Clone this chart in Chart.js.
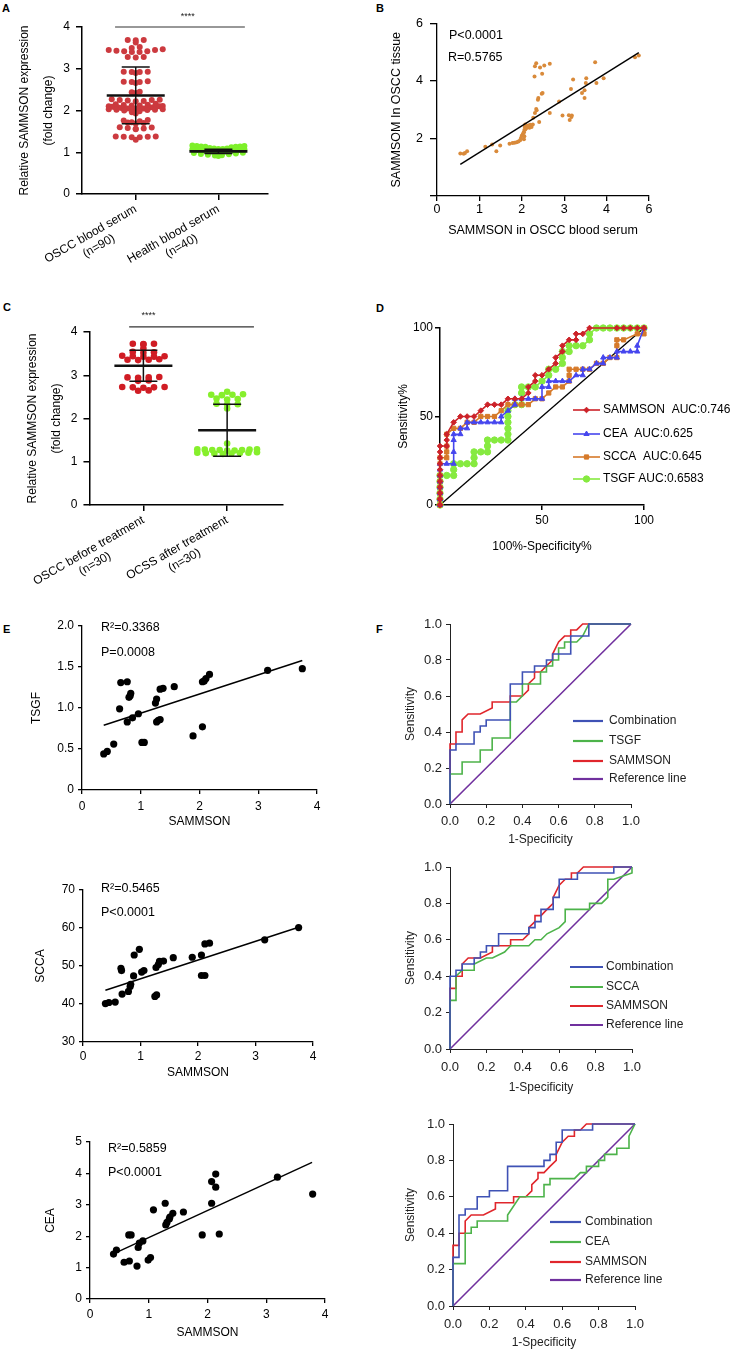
<!DOCTYPE html>
<html>
<head>
<meta charset="utf-8">
<title>SAMMSON figure</title>
<script src="https://cdn.jsdelivr.net/npm/chart.js@4.4.1/dist/chart.umd.min.js"></script>
<style>
  html, body { margin: 0; padding: 0; background: #fff; }
  body { position: relative; width: 735px; height: 1350px; overflow: hidden; }
  canvas { position: absolute; }
</style>
</head>
<body>
<script>
const FONT = "'Liberation Sans', Arial, sans-serif";

// ---- A: serum SAMMSON, OSCC vs healthy
const aGroups = [['OSCC blood serum', '(n=90)'], ['Health blood serum', '(n=40)']];
const aOscc = [3.69, 3.69, 3.68, 3.63,
  3.52, 3.50, 3.47, 3.45, 3.45, 3.43, 3.42, 3.42, 3.40, 3.40,
  3.28, 3.28, 3.27,
  2.93, 2.93, 2.92, 2.92, 2.90,
  2.70, 2.69, 2.68, 2.68, 2.66,
  2.45, 2.44, 2.42,
  2.27, 2.26, 2.25, 2.25, 2.24, 2.23, 2.22,
  2.16, 2.15, 2.14, 2.13, 2.12, 2.12, 2.11, 2.10, 2.10, 2.09, 2.09, 2.08, 2.08, 2.07, 2.07, 2.06, 2.06,
  2.06, 2.05, 2.05, 2.05, 2.04, 2.04, 2.04, 2.03, 2.03, 2.02, 2.02, 2.01, 2.00, 1.98, 1.96, 1.93,
  1.77, 1.76, 1.74, 1.72, 1.71, 1.70, 1.69,
  1.60, 1.59, 1.58, 1.57, 1.56, 1.55,
  1.38, 1.38, 1.37, 1.37, 1.36, 1.36,
  1.30];
const aHealth = [1.16, 1.15, 1.15, 1.14, 1.14, 1.13, 1.13, 1.12,
  1.10, 1.09, 1.09, 1.08, 1.08, 1.07, 1.07, 1.06, 1.06, 1.05, 1.05, 1.05, 1.04, 1.04, 1.04, 1.03,
  1.03, 1.02, 1.02, 1.01, 1.01, 1.00, 1.00, 0.99, 0.98, 0.97, 0.96, 0.95, 0.94, 0.93, 0.92, 0.91];
const aMean = [2.36, 1.02];
const aSd = [0.68, 0.05];

// ---- B: serum vs tissue
const bTickLabels = ['0', '1', '2', '3', '4', '6'];
const bPoints = [[0.55, 1.48], [0.63, 1.47], [0.66, 1.50], [0.71, 1.56], [1.14, 1.71], [1.30, 1.79], [1.40, 1.56],
  [1.49, 1.76], [1.71, 1.82], [1.78, 1.84], [1.83, 1.85], [1.88, 1.87], [1.92, 1.90], [1.96, 1.94], [1.98, 2.02],
  [2.00, 2.10], [2.02, 2.14], [2.04, 2.20], [2.05, 1.97], [2.05, 2.22], [2.06, 2.30], [2.06, 2.08], [2.07, 2.40],
  [2.08, 2.49], [2.08, 2.31], [2.10, 2.35], [2.12, 2.43], [2.15, 2.45], [2.18, 2.37], [2.20, 2.48], [2.23, 2.40],
  [2.26, 2.49], [2.27, 2.72], [2.30, 4.16], [2.31, 2.89], [2.31, 4.51], [2.34, 3.03], [2.34, 4.62], [2.35, 2.98],
  [2.38, 3.35], [2.39, 3.41], [2.41, 2.57], [2.43, 4.47], [2.47, 3.56], [2.48, 4.25], [2.49, 3.58], [2.53, 4.54],
  [2.66, 4.60], [2.66, 2.89], [2.88, 3.29], [2.96, 2.80], [3.11, 2.81], [3.13, 2.64], [3.17, 2.75], [3.18, 2.80],
  [3.16, 3.72], [3.21, 4.05], [3.42, 3.58], [3.48, 3.41], [3.48, 3.68], [3.51, 3.93], [3.52, 4.10], [3.73, 4.65],
  [3.76, 3.93], [3.93, 4.10], [4.67, 4.83], [4.76, 4.89]];
const bFit = [[0.55, 1.10], [4.76, 4.99]];

// ---- C: before / after treatment
const cGroups = [['OSCC before treatment', '(n=30)'], ['OCSS after treatment', '(n=30)']];
const cBefore = [3.73, 3.73, 3.72, 3.71, 3.62, 3.54, 3.53, 3.52, 3.45, 3.44, 3.44, 3.43, 3.43, 3.37, 3.36,
  3.36, 3.35, 2.96, 2.95, 2.95, 2.94, 2.88, 2.87, 2.73, 2.73, 2.72, 2.72, 2.71, 2.65, 2.64];
const cAfter = [2.62, 2.56, 2.55, 2.55, 2.54, 2.46, 2.45, 2.44, 2.34, 2.33, 2.32, 2.23, 1.42, 1.29, 1.29,
  1.28, 1.28, 1.27, 1.27, 1.27, 1.26, 1.26, 1.22, 1.21, 1.21, 1.20, 1.20, 1.19, 1.19, 1.18];
const cMean = [3.22, 1.73];
const cSd = [0.36, 0.60];

// ---- D: ROC of single markers (%)
const dLabels = ['SAMMSON  AUC:0.746', 'CEA  AUC:0.625', 'SCCA  AUC:0.645', 'TSGF AUC:0.6583'];
const dSammson = [[0, 0], [0, 3.3], [0, 6.7], [0, 10], [0, 13.3], [0, 16.7], [0, 20], [0, 23.3], [0, 26.7], [0, 30],
  [0, 33.3], [3.3, 33.3], [3.3, 36.7], [3.3, 40], [6.7, 46.7], [10, 50], [13.3, 50], [16.7, 50], [20, 53.3],
  [23.3, 56.7], [26.7, 56.7], [30, 56.7], [33.3, 60], [36.7, 60], [40, 60], [43.3, 63.3], [43.3, 66.7], [46.7, 70],
  [46.7, 73.3], [50, 73.3], [53.3, 76.7], [56.7, 80], [56.7, 83.3], [60, 86.7], [60, 90], [63.3, 93.3], [66.7, 93.3],
  [66.7, 96.7], [70, 96.7], [73.3, 100], [86.7, 100], [90, 100], [93.3, 100], [96.7, 100], [100, 100]];
const dCea = [[0, 0], [0, 3.3], [0, 6.7], [0, 10], [0, 13.3], [0, 16.7], [0, 20], [0, 23.3], [3.3, 23.3], [6.7, 23.3],
  [6.7, 30], [6.7, 36.7], [6.7, 40], [10, 40], [10, 43.3], [13.3, 43.3], [13.3, 46.7], [16.7, 46.7], [20, 46.7],
  [23.3, 46.7], [26.7, 46.7], [30, 46.7], [30, 50], [33.3, 53.3], [36.7, 56.7], [36.7, 60], [40, 60], [43.3, 60],
  [46.7, 60], [50, 60], [50, 66.7], [53.3, 66.7], [53.3, 70], [56.7, 70], [60, 70], [63.3, 70], [66.7, 73.3],
  [70, 73.3], [70, 76.7], [73.3, 76.7], [76.7, 80], [80, 80], [80, 83.3], [83.3, 83.3], [86.7, 83.3], [86.7, 86.7],
  [90, 86.7], [93.3, 86.7], [96.7, 86.7], [96.7, 90], [100, 100]];
const dScca = [[0, 0], [0, 3.3], [0, 6.7], [0, 10], [0, 13.3], [0, 16.7], [0, 23.3], [0, 26.7], [3.3, 26.7], [3.3, 30],
  [3.3, 33.3], [3.3, 40], [6.7, 43.3], [10, 43.3], [13.3, 46.7], [16.7, 46.7], [20, 50], [23.3, 50], [26.7, 50],
  [30, 53.3], [33.3, 56.7], [36.7, 56.7], [40, 56.7], [43.3, 56.7], [46.7, 60], [50, 60], [53.3, 63.3], [56.7, 66.7],
  [60, 66.7], [63.3, 70], [63.3, 73.3], [63.3, 76.7], [66.7, 76.7], [70, 76.7], [73.3, 76.7], [76.7, 80], [80, 80],
  [83.3, 83.3], [86.7, 83.3], [86.7, 90], [86.7, 93.3], [90, 93.3], [96.7, 96.7], [100, 96.7], [100, 100]];
const dTsgf = [[0, 0], [0, 3.3], [0, 6.7], [0, 10], [0, 13.3], [0, 16.7], [3.3, 16.7], [6.7, 16.7], [6.7, 20],
  [6.7, 23.3], [10, 23.3], [13.3, 23.3], [16.7, 23.3], [16.7, 26.7], [16.7, 30], [20, 30], [23.3, 30], [23.3, 33.3],
  [23.3, 36.7], [26.7, 36.7], [30, 36.7], [33.3, 36.7], [33.3, 40], [33.3, 43.3], [33.3, 46.7], [33.3, 50],
  [33.3, 53.3], [36.7, 56.7], [40, 56.7], [40, 63.3], [40, 66.7], [43.3, 66.7], [46.7, 66.7], [50, 70], [53.3, 73.3],
  [53.3, 76.7], [56.7, 76.7], [60, 80], [60, 83.3], [60, 86.7], [63.3, 86.7], [63.3, 90], [66.7, 90], [70, 90],
  [73.3, 93.3], [73.3, 96.7], [76.7, 100], [80, 100], [83.3, 100], [86.7, 100], [90, 100], [93.3, 100],
  [96.7, 100], [100, 100]];
const dDiagonal = [[0, 0], [100, 100]];

// ---- E: correlations with SAMMSON
const e1Points = [[0.37, 0.44], [0.43, 0.47], [0.54, 0.56], [0.64, 0.99], [0.66, 1.31], [0.77, 1.32], [0.77, 0.83],
  [0.80, 1.13], [0.82, 1.15], [0.83, 1.18], [0.86, 0.88], [0.96, 0.93], [1.02, 0.58], [1.06, 0.58], [1.25, 1.06],
  [1.27, 1.11], [1.27, 0.83], [1.30, 0.85], [1.33, 0.86], [1.33, 1.23], [1.38, 1.24], [1.57, 1.26], [1.89, 0.66],
  [2.05, 0.77], [2.05, 1.32], [2.08, 1.33], [2.11, 1.36], [2.17, 1.41], [3.16, 1.46], [3.75, 1.48]];
const e1Fit = [[0.37, 0.79], [3.75, 1.58]];
const e2Points = [[0.39, 40.1], [0.45, 40.4], [0.56, 40.5], [0.66, 49.4], [0.67, 48.8], [0.68, 42.6], [0.79, 43.3],
  [0.82, 44.6], [0.83, 45.2], [0.88, 47.4], [0.89, 52.9], [0.98, 54.4], [1.02, 48.4], [1.06, 48.8], [1.25, 42.0],
  [1.28, 42.4], [1.27, 49.6], [1.31, 50.4], [1.33, 51.2], [1.40, 51.3], [1.57, 52.2], [1.90, 52.3], [2.06, 52.9],
  [2.06, 47.5], [2.12, 47.5], [2.12, 55.8], [2.20, 56.0], [3.16, 56.9], [3.75, 60.1]];
const e2Fit = [[0.39, 43.6], [3.75, 60.2]];
const e3Points = [[0.40, 1.43], [0.45, 1.56], [0.58, 1.17], [0.67, 1.21], [0.66, 2.04], [0.70, 2.04], [0.80, 1.05],
  [0.82, 1.64], [0.84, 1.78], [0.90, 1.85], [0.99, 1.24], [1.03, 1.32], [1.08, 2.84], [1.28, 3.05], [1.29, 2.36],
  [1.31, 2.44], [1.35, 2.55], [1.36, 2.61], [1.41, 2.73], [1.59, 2.77], [1.91, 2.04], [2.07, 3.74], [2.07, 3.05],
  [2.14, 3.98], [2.14, 3.56], [2.20, 2.07], [3.19, 3.88], [3.79, 3.34]];
const e3Fit = [[0.48, 1.51], [3.78, 4.35]];

// ---- F: ROC of combination vs single markers
const fSammson = [[0, 0], [0, 0.333], [0.033, 0.333], [0.033, 0.4], [0.067, 0.4], [0.067, 0.467], [0.1, 0.5],
  [0.167, 0.5], [0.233, 0.533], [0.233, 0.567], [0.333, 0.567], [0.333, 0.6], [0.4, 0.6], [0.433, 0.633],
  [0.433, 0.667], [0.467, 0.7], [0.467, 0.733], [0.5, 0.733], [0.533, 0.767], [0.567, 0.8], [0.567, 0.833],
  [0.6, 0.9], [0.633, 0.933], [0.667, 0.933], [0.667, 0.967], [0.7, 0.967], [0.733, 1], [1, 1]];
const f1Comb = [[0, 0], [0, 0.3], [0.033, 0.3], [0.033, 0.333], [0.133, 0.333], [0.133, 0.4], [0.167, 0.4],
  [0.167, 0.433], [0.2, 0.433], [0.2, 0.467], [0.333, 0.467], [0.333, 0.667], [0.4, 0.667], [0.4, 0.733],
  [0.467, 0.733], [0.467, 0.767], [0.533, 0.767], [0.533, 0.8], [0.567, 0.8], [0.567, 0.833], [0.667, 0.833],
  [0.667, 0.933], [0.767, 0.933], [0.767, 1], [1, 1]];
const f1Tsgf = [[0, 0], [0, 0.167], [0.067, 0.167], [0.067, 0.233], [0.167, 0.233], [0.167, 0.3], [0.233, 0.3],
  [0.233, 0.367], [0.333, 0.367], [0.333, 0.567], [0.367, 0.567], [0.4, 0.6], [0.4, 0.667], [0.5, 0.667],
  [0.5, 0.733], [0.533, 0.733], [0.533, 0.767], [0.567, 0.767], [0.567, 0.8], [0.6, 0.8], [0.6, 0.867],
  [0.633, 0.867], [0.633, 0.9], [0.7, 0.9], [0.733, 0.933], [0.767, 1], [1, 1]];
const f2Comb = [[0, 0], [0, 0.4], [0.033, 0.4], [0.033, 0.433], [0.067, 0.433], [0.067, 0.467], [0.133, 0.467],
  [0.133, 0.5], [0.167, 0.5], [0.167, 0.533], [0.2, 0.533], [0.2, 0.567], [0.267, 0.567], [0.267, 0.633],
  [0.433, 0.633], [0.433, 0.667], [0.467, 0.667], [0.467, 0.7], [0.5, 0.7], [0.5, 0.767], [0.567, 0.767],
  [0.567, 0.833], [0.6, 0.833], [0.6, 0.933], [0.7, 0.933], [0.7, 0.967], [0.9, 0.967], [0.9, 1], [1, 1]];
const f2Scca = [[0, 0], [0, 0.267], [0.033, 0.267], [0.033, 0.4], [0.067, 0.433], [0.133, 0.433], [0.133, 0.467],
  [0.2, 0.5], [0.233, 0.5], [0.3, 0.533], [0.333, 0.567], [0.433, 0.567], [0.467, 0.6], [0.5, 0.6], [0.533, 0.633],
  [0.6, 0.667], [0.633, 0.7], [0.633, 0.767], [0.767, 0.767], [0.767, 0.8], [0.833, 0.8], [0.867, 0.833],
  [0.867, 0.933], [0.9, 0.933], [1, 0.967], [1, 1]];
const f3Comb = [[0, 0], [0, 0.267], [0.033, 0.267], [0.033, 0.5], [0.067, 0.5], [0.067, 0.533], [0.133, 0.533],
  [0.133, 0.6], [0.2, 0.6], [0.2, 0.633], [0.3, 0.633], [0.3, 0.767], [0.5, 0.767], [0.5, 0.8], [0.533, 0.8],
  [0.533, 0.833], [0.567, 0.833], [0.567, 0.9], [0.6, 0.9], [0.6, 0.967], [0.767, 0.967], [0.767, 1], [1, 1]];
const f3Cea = [[0, 0], [0, 0.233], [0.067, 0.233], [0.067, 0.4], [0.1, 0.4], [0.1, 0.433], [0.133, 0.433],
  [0.133, 0.467], [0.3, 0.467], [0.3, 0.5], [0.367, 0.6], [0.5, 0.6], [0.5, 0.667], [0.533, 0.667], [0.533, 0.7],
  [0.667, 0.7], [0.7, 0.733], [0.733, 0.733], [0.733, 0.767], [0.8, 0.767], [0.8, 0.8], [0.833, 0.8],
  [0.833, 0.833], [0.9, 0.833], [0.9, 0.867], [0.967, 0.867], [0.967, 0.933], [1, 1]];
const fReference = [[0, 0], [1, 1]];

// ---------------------------------------------------------------------------
const xy = pts => pts.map(p => ({x: p[0], y: p[1]}));

// page-positioned canvas whose chart area lands exactly on `plot`
function makeChart(plot, pad, cfg) {
  const c = document.createElement('canvas');
  const w = plot.r - plot.l + pad.l + pad.r, h = plot.b - plot.t + pad.t + pad.b;
  c.width = w; c.height = h;
  Object.assign(c.style, {left: (plot.l - pad.l) + 'px', top: (plot.t - pad.t) + 'px', width: w + 'px', height: h + 'px'});
  document.body.appendChild(c);
  const o = cfg.options;
  Object.assign(o, {responsive: false, animation: false, devicePixelRatio: 1,
    layout: {padding: {left: 0, top: pad.t, right: pad.r, bottom: 0}}});
  o.plugins = Object.assign({legend: {display: false}, tooltip: {enabled: false}}, o.plugins || {});
  o.scales.x.afterFit = s => { s.height = pad.b; };
  o.scales.y.afterFit = s => { s.width = pad.l; };
  return new Chart(c, cfg);
}

function axis(o) {
  const col = o.color || '#000';
  const a = {
    type: 'linear', min: o.min, max: o.max,
    border: {display: true, color: col, width: o.bw || 1.3},
    grid: {drawOnChartArea: false, drawTicks: true, tickLength: o.tl, color: col, tickColor: col, lineWidth: o.bw || 1.3},
    ticks: {color: o.tc || '#000', font: {family: FONT, size: o.fs}, padding: o.pad, autoSkip: false,
      maxRotation: o.rot || 0, minRotation: o.rot || 0},
    title: {display: !!o.title, text: o.title || '', color: o.tc || '#000',
      font: {family: FONT, size: o.tfs || o.fs, lineHeight: o.tlh || 1.2}, padding: 0}
  };
  if (o.step) a.ticks.stepSize = o.step;
  if (o.cb) a.ticks.callback = o.cb;
  if (o.at) a.afterBuildTicks = s => { s.ticks = o.at.map(v => ({value: v})); };
  return a;
}

// trailing spaces so the (n=..) line sits centred under the rotated group name
function centred(lines, size) {
  const ctx = document.createElement('canvas').getContext('2d');
  ctx.font = size + 'px ' + FONT;
  const w0 = ctx.measureText(lines[0]).width, sp = ctx.measureText(' ').width;
  return lines.map(s => s + ' '.repeat(Math.max(0, Math.round((w0 - ctx.measureText(s).width) / 2 / sp))));
}

// dot-plot layout: values binned into rows, each row spread out from the centre
// (lowest value in the middle), squeezed when a row gets crowded
function rows(vals, cx, pxX, h, s, maxW) {
  const bins = new Map();
  vals.forEach(v => {
    const k = Math.round(v / h);
    if (!bins.has(k)) bins.set(k, []);
    bins.get(k).push(v);
  });
  const out = [];
  bins.forEach(list => {
    list.sort((a, b) => a - b);
    const n = list.length;
    const step = n > 1 ? Math.min(s, maxW / (n - 1)) : 0;
    const shift = n % 2 === 0 ? -0.5 : 0;
    list.forEach((v, i) => {
      const slot = i === 0 ? 0 : (i % 2 ? 1 : -1) * Math.ceil(i / 2);
      out.push({x: cx + (slot + shift) * step / pxX, y: v});
    });
  });
  return out;
}

const meanSdPlugin = {
  id: 'meanSd',
  afterDatasetsDraw(chart, args, o) {
    const {ctx, scales: {x, y}} = chart;
    ctx.save();
    ctx.strokeStyle = '#111';
    o.means.forEach((m, i) => {
      const cx = x.getPixelForValue(i + 1);
      const ym = y.getPixelForValue(m);
      const y1 = y.getPixelForValue(m + o.sds[i]), y0 = y.getPixelForValue(m - o.sds[i]);
      ctx.lineWidth = 1.5;
      ctx.beginPath();
      ctx.moveTo(cx, y0); ctx.lineTo(cx, y1);
      ctx.moveTo(cx - o.cap, y0); ctx.lineTo(cx + o.cap, y0);
      ctx.moveTo(cx - o.cap, y1); ctx.lineTo(cx + o.cap, y1);
      ctx.stroke();
      ctx.lineWidth = 2.6;
      ctx.beginPath(); ctx.moveTo(cx - o.half, ym); ctx.lineTo(cx + o.half, ym); ctx.stroke();
    });
    ctx.restore();
  }
};

const sigPlugin = {
  id: 'sig',
  afterDraw(chart, args, o) {
    const {ctx, scales: {x, y}} = chart;
    const py = y.getPixelForValue(o.y);
    ctx.save();
    ctx.strokeStyle = '#333'; ctx.lineWidth = 1.2;
    ctx.beginPath(); ctx.moveTo(x.getPixelForValue(o.from), py); ctx.lineTo(x.getPixelForValue(o.to), py); ctx.stroke();
    ctx.fillStyle = '#222'; ctx.font = '9px ' + FONT; ctx.textAlign = 'center'; ctx.textBaseline = 'middle';
    ctx.fillText('****', x.getPixelForValue(o.starsX), py + o.dy);
    ctx.restore();
  }
};

// legend drawn at fixed page coordinates (line sample, optional marker, label)
const keyPlugin = {
  id: 'key',
  afterDraw(chart, args, o) {
    const ctx = chart.ctx;
    const ox = parseFloat(chart.canvas.style.left), oy = parseFloat(chart.canvas.style.top);
    ctx.save();
    let k = 0;
    chart.data.datasets.forEach(ds => {
      if (!ds.label) return;
      const y = o.ys[k++] - oy;
      ctx.strokeStyle = ds.borderColor; ctx.lineWidth = o.lw;
      ctx.beginPath(); ctx.moveTo(o.x1 - ox, y); ctx.lineTo(o.x2 - ox, y); ctx.stroke();
      if (o.markers && ds.pointStyle && Chart.helpers && Chart.helpers.drawPoint) {
        ctx.fillStyle = ds.borderColor; ctx.lineWidth = 1;
        Chart.helpers.drawPoint(ctx, {pointStyle: ds.pointStyle, radius: ds.pointRadius, borderWidth: 1, rotation: 0},
          (o.x1 + o.x2) / 2 - ox, y);
      }
      ctx.fillStyle = o.color || '#000';
      ctx.font = o.fs + 'px ' + FONT; ctx.textAlign = 'left'; ctx.textBaseline = 'middle';
      ctx.fillText(ds.label, o.tx - ox, y);
    });
    ctx.restore();
  }
};

function note(text, x, y, size, bold) {
  const d = document.createElement('div');
  d.textContent = text;
  d.style.cssText = 'position:absolute;left:' + x + 'px;top:' + y + 'px;transform:translateY(-50%);white-space:nowrap;' +
    'line-height:1;color:#000;font:' + (bold ? 'bold ' : '') + size + 'px ' + FONT + ';';
  document.body.appendChild(d);
}

// ---- A
{
  const plot = {l: 82, t: 27, r: 268, b: 194};
  const xr = [0.35, 2.6];
  const pxX = (plot.r - plot.l) / (xr[1] - xr[0]);
  makeChart(plot, {l: 69, t: 25, r: 12, b: 75}, {
    type: 'scatter',
    data: {datasets: [
      {data: rows(aOscc, 1, pxX, 0.08, 8, 54), backgroundColor: '#cc3a3f', pointRadius: 3, borderWidth: 0, clip: false},
      {data: rows(aHealth, 2, pxX, 0.08, 7, 52), backgroundColor: '#7ef02a', pointRadius: 3, borderWidth: 0, clip: false}
    ]},
    options: {
      scales: {
        x: axis({min: xr[0], max: xr[1], at: [1, 2], cb: v => centred(aGroups[v - 1], 12), rot: 30, tl: 6, pad: 2, fs: 12, bw: 1.5}),
        y: axis({min: 0, max: 4, step: 1, tl: 6, pad: 6, fs: 12, bw: 1.5,
          title: ['Relative SAMMSON expression', '(fold change)'], tlh: 2})
      },
      plugins: {meanSd: {means: aMean, sds: aSd, half: 29, cap: 14},
        sig: {from: 0.75, to: 2.32, y: 4, starsX: 1.63, dy: -10}}
    },
    plugins: [meanSdPlugin, sigPlugin]
  });
}

// ---- B
makeChart({l: 437, t: 21, r: 649, b: 196}, {l: 48, t: 12, r: 14, b: 42}, {
  type: 'scatter',
  data: {datasets: [
    {type: 'line', data: xy(bFit), borderColor: '#000', borderWidth: 1.4, pointRadius: 0},
    {data: xy(bPoints), backgroundColor: '#d98a3a', pointRadius: 2, borderWidth: 0}
  ]},
  options: {scales: {
    x: axis({min: 0, max: 5, step: 1, cb: v => bTickLabels[v], tl: 5, pad: 1.5, fs: 12.5, title: 'SAMMSON in OSCC blood serum'}),
    y: axis({min: 0, max: 6, step: 2, cb: v => (v === 0 ? '' : v), tl: 7, pad: 7, fs: 12.5, title: 'SAMMSOM In OSCC tissue'})
  }}
});

// ---- C
{
  const plot = {l: 82, t: 332, r: 283, b: 505};
  const xr = [0.356, 2.667];
  const pxX = (plot.r - plot.l) / (xr[1] - xr[0]);
  makeChart(plot, {l: 69, t: 30, r: 12, b: 88}, {
    type: 'scatter',
    data: {datasets: [
      {data: rows(cBefore, 1, pxX, 0.08, 11, 62), backgroundColor: '#d01c24', pointRadius: 3.3, borderWidth: 0, clip: false},
      {data: rows(cAfter, 2, pxX, 0.08, 11, 62), backgroundColor: '#86ef2c', pointRadius: 3.3, borderWidth: 0, clip: false}
    ]},
    options: {
      scales: {
        x: axis({min: xr[0], max: xr[1], at: [1, 2], cb: v => centred(cGroups[v - 1], 12), rot: 30, tl: 6, pad: 2, fs: 12, bw: 1.5}),
        y: axis({min: 0, max: 4, step: 1, tl: 6, pad: 6, fs: 12, bw: 1.5,
          title: ['Relative SAMMSON expression', '(fold change)'], tlh: 2})
      },
      plugins: {meanSd: {means: cMean, sds: cSd, half: 29, cap: 14},
        sig: {from: 0.83, to: 2.32, y: 4.12, starsX: 1.06, dy: -11}}
    },
    plugins: [meanSdPlugin, sigPlugin]
  });
}

// ---- D
{
  const ser = [
    {d: dSammson, c: '#cc2228', s: 'rectRot', r: 2.8},
    {d: dCea, c: '#4646ee', s: 'triangle', r: 3},
    {d: dScca, c: '#d67a2a', s: 'rect', r: 3},
    {d: dTsgf, c: '#86ea40', s: 'circle', r: 3.2}
  ];
  const sets = ser.map((s, i) => ({label: dLabels[i], data: xy(s.d), showLine: true, borderColor: s.c, borderWidth: 1.6,
    pointStyle: s.s, pointRadius: s.r, pointBackgroundColor: s.c, pointBorderColor: s.c, pointBorderWidth: 1, clip: false}));
  sets.push({data: xy(dDiagonal), showLine: true, borderColor: '#000', borderWidth: 1.3, pointRadius: 0, clip: false});
  makeChart({l: 440, t: 328, r: 644, b: 505}, {l: 44, t: 14, r: 91, b: 49}, {
    type: 'scatter',
    data: {datasets: sets},
    options: {
      scales: {
        x: axis({min: 0, max: 100, at: [50, 100], tl: 5, pad: 3.8, fs: 12, bw: 1.5, title: '100%-Specificity%'}),
        y: axis({min: 0, max: 100, step: 50, tl: 5, pad: 2, fs: 12, bw: 1.5, title: 'Sensitivity%'})
      },
      plugins: {key: {x1: 573, x2: 600, tx: 603, ys: [410, 434, 457, 479], markers: true, fs: 12, lw: 1.6}}
    },
    plugins: [keyPlugin]
  });
}

// ---- E
function corrChart(plot, pad, pts, fit, yr, ystep, ycb, ytitle) {
  makeChart(plot, pad, {
    type: 'scatter',
    data: {datasets: [
      {type: 'line', data: xy(fit), borderColor: '#000', borderWidth: 1.5, pointRadius: 0},
      {data: xy(pts), backgroundColor: '#000', pointRadius: 3.6, borderWidth: 0, clip: false}
    ]},
    options: {scales: {
      x: axis({min: 0, max: 4, step: 1, tl: 4, pad: pad.xp, fs: 12, title: 'SAMMSON'}),
      y: axis({min: yr[0], max: yr[1], step: ystep, cb: ycb, tl: 4, pad: 4, fs: 12, title: ytitle})
    }}
  });
}
corrChart({l: 82, t: 626, r: 317, b: 790}, {l: 53, t: 12, r: 12, b: 39, xp: 5.8}, e1Points, e1Fit, [0, 2], 0.5,
  v => (v === 0 ? '0' : v.toFixed(1)), 'TSGF');
corrChart({l: 83, t: 890, r: 313, b: 1042}, {l: 50, t: 12, r: 12, b: 38, xp: 3.8}, e2Points, e2Fit, [30, 70], 10,
  v => v, 'SCCA');
corrChart({l: 90, t: 1142, r: 325, b: 1299}, {l: 47, t: 12, r: 12, b: 41, xp: 4.8}, e3Points, e3Fit, [0, 5], 1,
  v => v, 'CEA');

// ---- F
function rocChart(plot, pad, comb, marker, markerName, key) {
  const line = (label, d, c, w) => ({label, data: xy(d), showLine: true, borderColor: c, borderWidth: w, pointRadius: 0, clip: false});
  makeChart(plot, pad, {
    type: 'scatter',
    data: {datasets: [
      line('Combination', comb, '#3f52b5', 1.6),
      line(markerName, marker, '#4db34a', 1.6),
      line('SAMMSON', fSammson, '#e0262c', 1.6),
      line('Reference line', fReference, '#70309e', 1.6)
    ]},
    options: {
      scales: {
        x: axis({min: 0, max: 1, step: 0.2, cb: v => v.toFixed(1), tl: 4, pad: pad.xp, fs: 13, tfs: 12,
          bw: 1, color: '#222', tc: '#222', title: '1-Specificity'}),
        y: axis({min: 0, max: 1, step: 0.2, cb: v => v.toFixed(1), tl: 4, pad: 4, fs: 13, tfs: 12,
          bw: 1, color: '#222', tc: '#222', title: 'Sensitivity'})
      },
      plugins: {key: Object.assign({fs: 12, lw: 2.2, color: '#222'}, key)}
    },
    plugins: [keyPlugin]
  });
}
rocChart({l: 450, t: 624, r: 631, b: 804}, {l: 47, t: 12, r: 70, b: 43, xp: 6}, f1Comb, f1Tsgf, 'TSGF',
  {x1: 573, x2: 603, tx: 609, ys: [721, 741, 761, 779]});
rocChart({l: 450, t: 867, r: 632, b: 1049}, {l: 47, t: 12, r: 70, b: 46, xp: 7}, f2Comb, f2Scca, 'SCCA',
  {x1: 570, x2: 603, tx: 606, ys: [967, 987, 1006, 1025]});
rocChart({l: 453, t: 1124, r: 635, b: 1306}, {l: 50, t: 12, r: 70, b: 44, xp: 7}, f3Comb, f3Cea, 'CEA',
  {x1: 550, x2: 581, tx: 585, ys: [1222, 1242, 1262, 1280]});

// ---- panel letters and statistics
note('A', 2, 8, 11, true);
note('B', 376, 8, 11, true);
note('C', 3, 307, 11, true);
note('D', 376, 308, 11, true);
note('E', 3, 629, 11, true);
note('F', 376, 629, 11, true);
note('P<0.0001', 449, 35, 12.5);
note('R=0.5765', 448, 57, 12.5);
note('R²=0.3368', 101, 627, 12.5);
note('P=0.0008', 101, 652, 12.5);
note('R²=0.5465', 101, 888, 12.5);
note('P<0.0001', 101, 912, 12.5);
note('R²=0.5859', 108, 1148, 12.5);
note('P<0.0001', 108, 1172, 12.5);
</script>
</body>
</html>
